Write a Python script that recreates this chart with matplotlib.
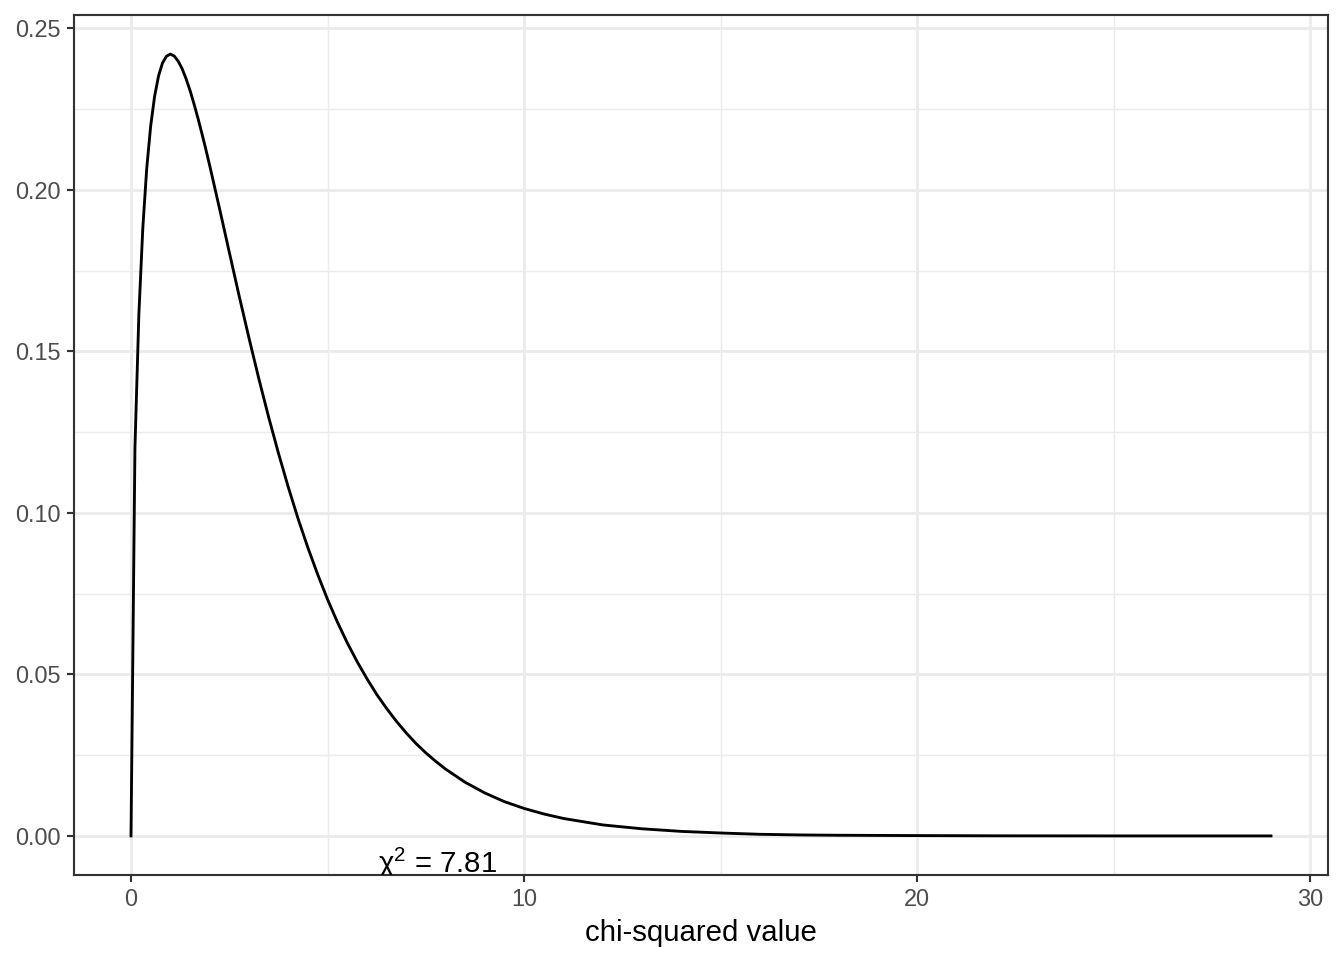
import matplotlib
matplotlib.use("Agg")
import matplotlib.pyplot as plt

plt.rcParams['font.family'] = ['Liberation Sans', 'DejaVu Sans']
plt.rcParams['mathtext.fontset'] = 'custom'
plt.rcParams['mathtext.rm'] = 'Liberation Sans'
plt.rcParams['mathtext.it'] = 'Liberation Sans'

# values (density curve)
x_vals = [0, 0.1, 0.2, 0.3, 0.4, 0.5, 0.6, 0.7, 0.8, 0.9, 1.0, 1.1, 1.2, 1.3, 1.4, 1.5,
          1.6, 1.7, 1.8, 1.9, 2.0, 2.25, 2.5, 2.75, 3.0, 3.25, 3.5, 3.75, 4.0, 4.25, 4.5,
          4.75, 5.0, 5.25, 5.5, 5.75, 6.0, 6.25, 6.5, 6.75, 7.0, 7.25, 7.5, 7.75, 8.0,
          8.5, 9.0, 9.5, 10, 10.5, 11, 12, 13, 14, 15, 16, 17, 18, 20, 22, 25, 29]
y_vals = [0.0, 0.1200, 0.1614, 0.1881, 0.2066, 0.2197, 0.2289, 0.2352, 0.2392, 0.2413,
          0.2420, 0.2414, 0.2398, 0.2375, 0.2344, 0.2308, 0.2267, 0.2223, 0.2176, 0.2127,
          0.2076, 0.1943, 0.1807, 0.1672, 0.1542, 0.1416, 0.1297, 0.1185, 0.1080, 0.0982,
          0.0892, 0.0809, 0.0732, 0.0662, 0.0598, 0.0540, 0.0487, 0.0438, 0.0395, 0.0355,
          0.0319, 0.0286, 0.0257, 0.0231, 0.0207, 0.0166, 0.0133, 0.0106, 0.0085, 0.0068,
          0.0054, 0.0034, 0.0022, 0.0014, 0.0009, 0.0005, 0.0003, 0.0002, 0.0001, 0.00003,
          0.0, 0.0]
x_ticks = [0, 10, 20, 30]
y_ticks = [0.00, 0.05, 0.10, 0.15, 0.20, 0.25]
y_tick_labels = ["0.00", "0.05", "0.10", "0.15", "0.20", "0.25"]
crit_value = 7.81
x_label = "chi-squared value"

fig = plt.figure(figsize=(7, 5), dpi=192)
ax = fig.add_axes([74/1344, 1-875/960, (1328-74)/1344, (875-15)/960])

ax.set_xlim(-1.45, 30.45)
ax.set_ylim(-0.0121, 0.2541)

for v in [5, 15, 25]:
    ax.axvline(v, color='#EBEBEB', lw=0.53, zorder=0)
for v in [0.025, 0.075, 0.125, 0.175, 0.225]:
    ax.axhline(v, color='#EBEBEB', lw=0.53, zorder=0)
for v in x_ticks:
    ax.axvline(v, color='#EBEBEB', lw=1.07, zorder=0)
for v in y_ticks:
    ax.axhline(v, color='#EBEBEB', lw=1.07, zorder=0)

ax.plot(x_vals, y_vals, color='black', lw=1.07, zorder=3, solid_joinstyle='round')

ax.text(crit_value, -0.01145, "χ$^{2}$ = " + f"{crit_value:.2f}", ha='center', va='baseline',
        fontsize=11, color='black', clip_on=True, zorder=4)

ax.set_xticks(x_ticks)
ax.set_yticks(y_ticks)
ax.set_yticklabels(y_tick_labels)
ax.tick_params(axis='both', length=2.75, width=0.8, color='#333333',
               labelsize=8.8, labelcolor='#4D4D4D', pad=2.2)
for s in ax.spines.values():
    s.set_color('#333333')
    s.set_linewidth(0.8)
ax.set_xlabel(x_label, fontsize=11, color='black', labelpad=3)

fig.savefig("out.png", dpi=192)
